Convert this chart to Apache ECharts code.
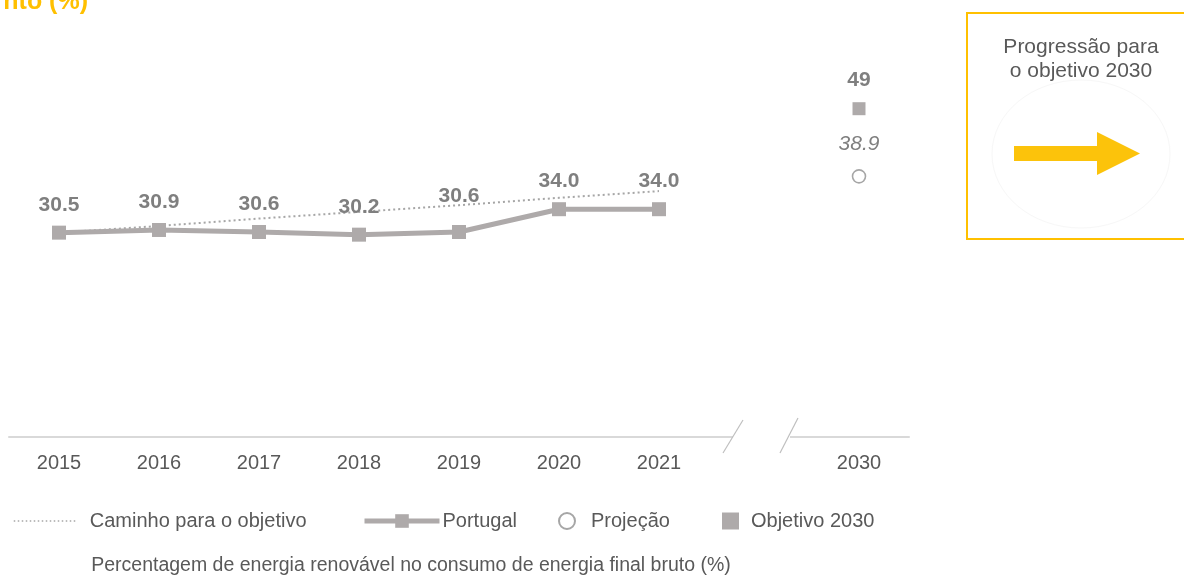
<!DOCTYPE html>
<html>
<head>
<meta charset="utf-8">
<script src="https://cdn.jsdelivr.net/npm/echarts@6/dist/echarts.min.js"></script>
<style>
html,body{margin:0;padding:0;background:#fff;}
#chart{width:1184px;height:581px;}
</style>
</head>
<body>
<div id="chart"></div>
<script>
// ---- data ----
const years = ['2015', '2016', '2017', '2018', '2019', '2020', '2021', '', '2030'];
const portugal = [30.5, 30.9, 30.6, 30.2, 30.6, 34.0, 34.0];
const pathToTarget = [30.5, 31.5, 32.6, 33.6, 34.6, 35.7, 36.7];
const projection2030 = 38.9;
const target2030 = 49;
const seriesNames = ['Caminho para o objetivo', 'Portugal', 'Projeção', 'Objetivo 2030'];
const titleTail = 'nto (%)';
const footnote = 'Percentagem de energia renovável no consumo de energia final bruto (%)';
const boxText = 'Progressão para\no objetivo 2030';

// ---- styles ----
const FONT = 'Arial, "Liberation Sans", sans-serif';
const GREY_LINE = '#AEAAAA';
const GREY_TEXT = '#595959';
const GREY_LABEL = '#7F7F7F';
const YELLOW = '#FFC000';
const liftDefault = 10;
const liftSpecial = {4: 18};

const chart = echarts.init(document.getElementById('chart'), null, {renderer: 'canvas'});

const portugalData = portugal.map((v, i) => ({
  value: v,
  label: {distance: liftSpecial[i] !== undefined ? liftSpecial[i] : liftDefault}
}));

const legendBase = {
  orient: 'horizontal',
  top: 511,
  padding: 0,
  textStyle: {fontFamily: FONT, fontSize: 20, color: GREY_TEXT},
  selectedMode: false
};

const option = {
  animation: false,
  backgroundColor: '#ffffff',
  grid: {left: 9, right: 275, top: 35, bottom: 144, containLabel: false},
  xAxis: {
    type: 'category',
    data: years,
    boundaryGap: true,
    axisLine: {show: true, lineStyle: {color: '#D9D9D9', width: 2}},
    axisTick: {show: false},
    axisLabel: {fontFamily: FONT, fontSize: 20, color: GREY_TEXT, margin: 16, interval: 0},
    splitLine: {show: false}
  },
  yAxis: {
    type: 'value', min: 0, max: 60, show: false, splitLine: {show: false}
  },
  legend: [
    Object.assign({}, legendBase, {
      left: 13, data: [seriesNames[0]], itemWidth: 64, itemHeight: 14,
      itemStyle: {opacity: 0},
      lineStyle: {width: 1.5, type: [1.5, 2.5], color: '#A6A6A6'},
      textStyle: Object.assign({}, legendBase.textStyle, {padding: [0, 0, 0, 7]})
    }),
    Object.assign({}, legendBase, {
      left: 362, data: [seriesNames[1]], itemWidth: 75, itemHeight: 17,
      lineStyle: {width: 5, color: GREY_LINE},
      textStyle: Object.assign({}, legendBase.textStyle, {padding: [0, 0, 0, -2]})
    }),
    Object.assign({}, legendBase, {
      left: 558, data: [seriesNames[2]], itemWidth: 16, itemHeight: 16,
      textStyle: Object.assign({}, legendBase.textStyle, {padding: [0, 0, 0, 11]})
    }),
    Object.assign({}, legendBase, {
      left: 722, data: [seriesNames[3]], itemWidth: 17, itemHeight: 17,
      textStyle: Object.assign({}, legendBase.textStyle, {padding: [0, 0, 0, 7]})
    })
  ],
  series: [
    {
      name: seriesNames[0],
      type: 'line',
      data: pathToTarget,
      symbol: 'none',
      z: 2,
      lineStyle: {color: '#A6A6A6', width: 2, type: [2, 3]},
      itemStyle: {color: '#A6A6A6'}
    },
    {
      name: seriesNames[1],
      type: 'line',
      data: portugalData,
      symbol: 'rect',
      symbolSize: 14,
      z: 3,
      lineStyle: {color: GREY_LINE, width: 5},
      itemStyle: {color: GREY_LINE},
      label: {
        show: true, position: 'top',
        fontFamily: FONT, fontSize: 21, fontWeight: 'bold', color: GREY_LABEL,
        formatter: p => p.value.toFixed(1)
      }
    },
    {
      name: seriesNames[2],
      type: 'scatter',
      data: [['2030', projection2030]],
      symbol: 'circle',
      symbolSize: 13,
      itemStyle: {color: '#ffffff', borderColor: '#A6A6A6', borderWidth: 1.6, opacity: 1},
      label: {
        show: true, position: 'top', distance: 14,
        fontFamily: FONT, fontSize: 21, fontStyle: 'italic', color: GREY_LABEL,
        formatter: p => p.value[1].toFixed(1)
      }
    },
    {
      name: seriesNames[3],
      type: 'scatter',
      data: [['2030', target2030]],
      symbol: 'rect',
      symbolSize: 13,
      itemStyle: {color: GREY_LINE, opacity: 1},
      label: {
        show: true, position: 'top', distance: 11,
        fontFamily: FONT, fontSize: 21, fontWeight: 'bold', color: GREY_LABEL,
        formatter: p => String(p.value[1])
      }
    }
  ]
};

chart.setOption(option);

// axis break decoration, positioned from the axis scale
const xBreak = chart.convertToPixel({xAxisIndex: 0}, 7);
const yAxisLine = chart.convertToPixel({yAxisIndex: 0}, 0);

chart.setOption({
  graphic: [
    {
      type: 'rect', z: 100,
      shape: {x: xBreak - 26, y: yAxisLine - 5, width: 57, height: 10},
      style: {fill: '#ffffff'}
    },
    {
      type: 'line', z: 101,
      shape: {x1: xBreak - 36, y1: yAxisLine + 16, x2: xBreak - 16, y2: yAxisLine - 17},
      style: {stroke: '#BFBFBF', lineWidth: 1.2}
    },
    {
      type: 'line', z: 101,
      shape: {x1: xBreak + 21, y1: yAxisLine + 16, x2: xBreak + 39, y2: yAxisLine - 19},
      style: {stroke: '#BFBFBF', lineWidth: 1.2}
    },
    // title fragment at top-left (cut off)
    {
      type: 'text', z: 50,
      style: {
        text: titleTail, x: 88, y: 15, align: 'right', verticalAlign: 'bottom',
        font: 'bold 25px ' + FONT, fill: YELLOW
      }
    },
    // footnote
    {
      type: 'text', z: 50,
      style: {
        text: footnote, x: 411, y: 566, align: 'center', verticalAlign: 'middle',
        font: '19.5px ' + FONT, fill: GREY_TEXT
      }
    },
    // right side box
    {
      type: 'rect', z: 40,
      shape: {x: 967, y: 13, width: 240, height: 226},
      style: {fill: 'none', stroke: YELLOW, lineWidth: 2}
    },
    {
      type: 'ellipse', z: 41,
      shape: {cx: 1081, cy: 154, rx: 89, ry: 74},
      style: {fill: 'none', stroke: '#F7F7F7', lineWidth: 1}
    },
    {
      type: 'text', z: 42,
      style: {
        text: boxText, x: 1081, y: 59, align: 'center', verticalAlign: 'middle',
        font: '21px ' + FONT, fill: GREY_TEXT, lineHeight: 24
      }
    },
    {
      type: 'polygon', z: 42,
      shape: {points: [[1014, 146], [1097, 146], [1097, 132], [1140, 153.5], [1097, 175], [1097, 161], [1014, 161]]},
      style: {fill: '#FCC30B'}
    }
  ]
});
</script>
</body>
</html>
